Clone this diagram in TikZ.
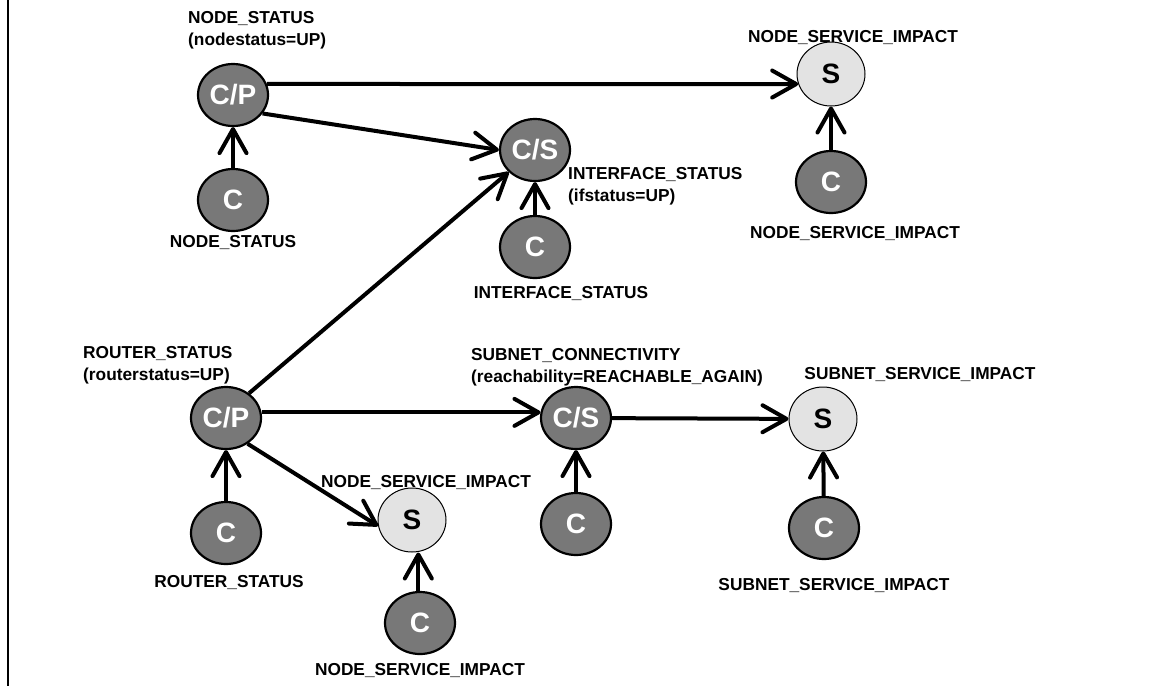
\documentclass[tikz,border=0pt]{standalone}
\usepackage{fontspec}
\setmainfont{Liberation Sans}
\usetikzlibrary{shapes.geometric,arrows.meta}
\definecolor{condgray}{RGB}{120,120,120}
\definecolor{svcgray}{RGB}{227,227,227}
\tikzset{
  condnode/.style={ellipse,draw=black,line width=2.2pt,fill=condgray,
    minimum width=70pt,minimum height=62pt,inner sep=0pt,text=white,
    font=\fontsize{28}{30}\selectfont\bfseries},
  svcnode/.style={ellipse,draw=black,line width=1pt,fill=svcgray,
    minimum width=68pt,minimum height=64pt,inner sep=0pt,text=black,
    font=\fontsize{28}{30}\selectfont\bfseries},
  lbl/.style={inner sep=0pt,font=\fontsize{17.3}{22}\selectfont\bfseries},
  lbltwo/.style={lbl,align=left,anchor=north west},
  arr/.style={line width=4pt,-{Straight Barb[length=24pt,width=27pt,round]}}
}
\begin{document}
\begin{tikzpicture}[x=1pt,y=-1pt]
\useasboundingbox (0,0) rectangle (1151,686);
\fill[white] (0,0) rectangle (1151,686);
% frame line on the left
\draw[line width=1.5pt] (8,0) -- (8,686);

% upper group
\node[condnode] (np)  at (233,95)  {C/P};
\node[condnode] (nc1) at (233,200) {C};
\node[condnode] (nis) at (535,150) {C/S};
\node[condnode] (nc2) at (535,247) {C};
\node[svcnode]  (ns1) at (831,74)  {S};
\node[condnode] (nc3) at (831,182) {C};

% lower group
\node[condnode] (nr)  at (226,418) {C/P};
\node[condnode] (nc4) at (226,533) {C};
\node[svcnode]  (nsm) at (412,520) {S};
\node[condnode] (nc5) at (420,623) {C};
\node[condnode] (nsc) at (576,418) {C/S};
\node[condnode] (nc6) at (576,524) {C};
\node[svcnode]  (nss) at (823,419) {S};
\node[condnode] (nc7) at (824,528) {C};

% labels
\node[lbltwo] (l1) at (188,11.6) {NODE\_STATUS\\(nodestatus=UP)};
\node[lbl,anchor=base] (l2) at (233,247) {NODE\_STATUS};
\node[lbltwo] (l3) at (568,167.6) {INTERFACE\_STATUS\\(ifstatus=UP)};
\node[lbl,anchor=base] (l4) at (561,298) {INTERFACE\_STATUS};
\node[lbl,anchor=base] (l5) at (853,42) {NODE\_SERVICE\_IMPACT};
\node[lbl,anchor=base] (l6) at (855,238) {NODE\_SERVICE\_IMPACT};
\node[lbltwo] (l7) at (83,346.6) {ROUTER\_STATUS\\(routerstatus=UP)};
\node[lbl,anchor=base] (l8) at (229,587) {ROUTER\_STATUS};
\node[lbl,anchor=base] (l9) at (426,487) {NODE\_SERVICE\_IMPACT};
\node[lbl,anchor=base] (l10) at (420,675) {NODE\_SERVICE\_IMPACT};
\node[lbltwo] (l11) at (471,348.6) {SUBNET\_CONNECTIVITY\\(reachability=REACHABLE\_AGAIN)};
\node[lbl,anchor=base] (l12) at (920,379) {SUBNET\_SERVICE\_IMPACT};
\node[lbl,anchor=base] (l13) at (834,590) {SUBNET\_SERVICE\_IMPACT};

% connectors
\draw[arr] (nc1) -- (np);
\draw[arr] (nc2) -- (nis);
\draw[arr] (nc3) -- (ns1);
\draw[arr] (nc4) -- (nr);
\draw[arr] (nc5.93) -- (nc5.93 |- nsm.south);
\draw[arr] (nc6) -- (nsc);
\draw[arr] (nc7) -- (nss);
\draw[arr] (np.18.5) -- (ns1.197);
\draw[arr] (np.328) -- (nis.west);
\draw[arr] (nr.47) -- (nis.220);
\draw[arr] (nr.9) -- (nsc.171);
\draw[arr] (nr.310) -- (nsm.190);
\draw[arr] (nsc) -- (nss);
\end{tikzpicture}
\end{document}
